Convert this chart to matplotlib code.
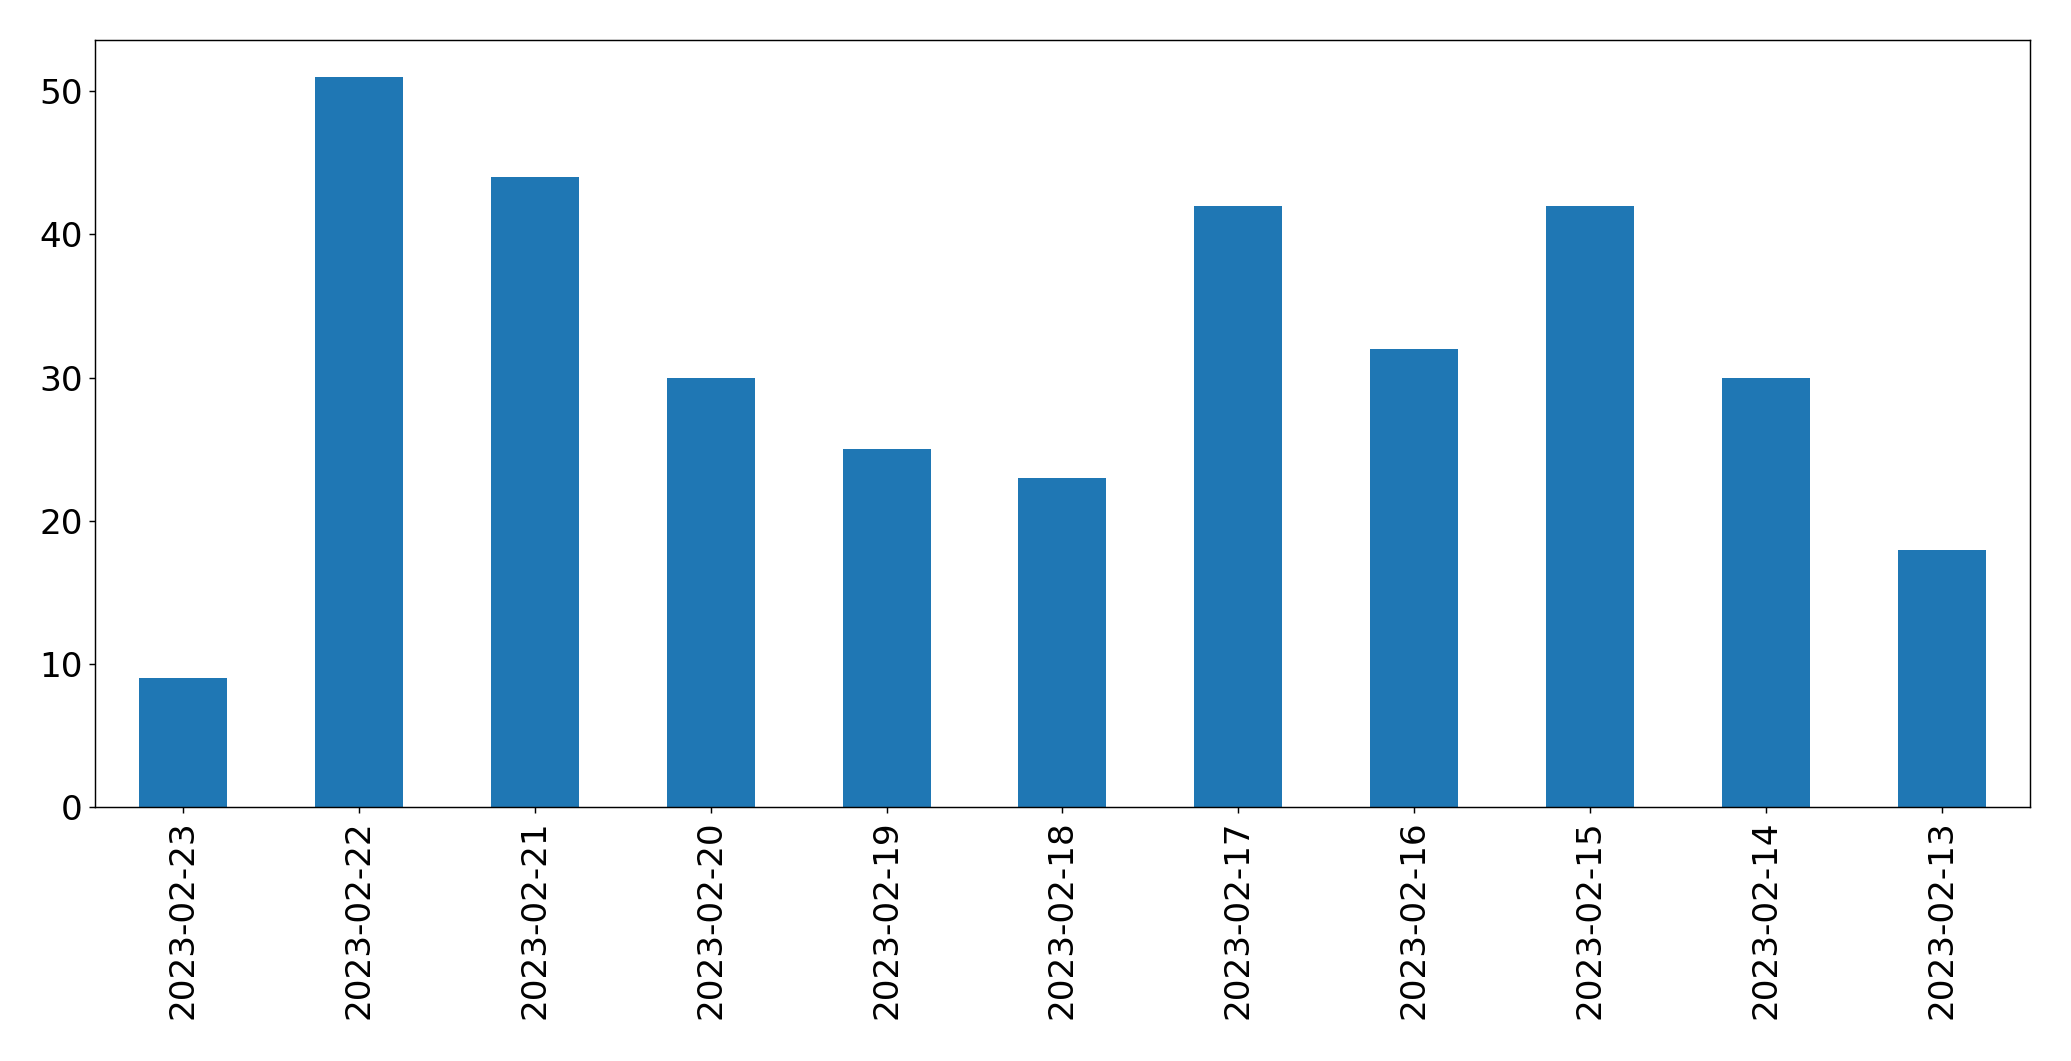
import matplotlib
matplotlib.use("Agg")
import matplotlib.pyplot as plt
import numpy as np

dates = ["2023-02-23", "2023-02-22", "2023-02-21", "2023-02-20", "2023-02-19",
         "2023-02-18", "2023-02-17", "2023-02-16", "2023-02-15", "2023-02-14",
         "2023-02-13"]
counts = [9, 51, 44, 30, 25, 23, 42, 32, 42, 30, 18]

fig = plt.figure(figsize=(2071 / 130, 1061 / 130), dpi=130)
ax = fig.add_axes([0.046, 0.239, 0.934, 0.723])

x = np.arange(len(dates))
ax.bar(x, counts, width=0.5, color="#1f77b4")
ax.set_xticks(x)
ax.set_xticklabels(dates, rotation=90)
ax.set_xlim(-0.5, len(dates) - 0.5)
ax.tick_params(labelsize=19)

fig.savefig("out.png", dpi=130)
